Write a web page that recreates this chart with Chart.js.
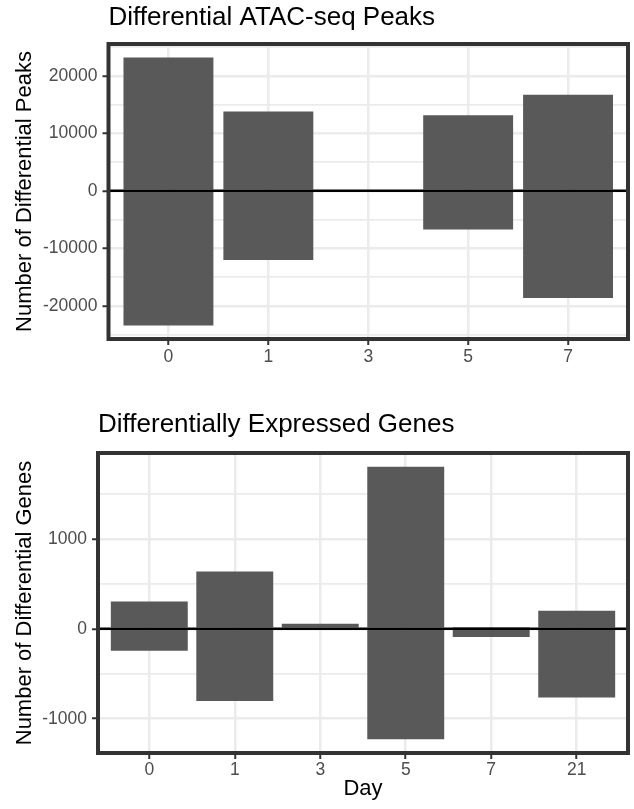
<!DOCTYPE html>
<html>
<head>
<meta charset="utf-8">
<script src="https://cdn.jsdelivr.net/npm/chart.js@4.4.1/dist/chart.umd.min.js"></script>
<style>
  html, body { margin: 0; padding: 0; background: #fff; }
  #wrap { position: relative; width: 634px; height: 809px; }
  canvas { position: absolute; left: 0; }
  #peaksChart { top: 0; }
  #genesChart { top: 400px; }
</style>
</head>
<body>
<div id="wrap">
  <canvas id="peaksChart" width="634" height="400"></canvas>
  <canvas id="genesChart" width="634" height="409"></canvas>
</div>
<script>
// ATAC-seq peaks per day (opened / closed)
const peakDays = ['0', '1', '3', '5', '7'];
const peaksUp = [23200, 13800, 0, 13150, 16700];
const peaksDown = [-23450, -12050, 0, -6750, -18650];
const peakTicks = [-20000, -10000, 0, 10000, 20000];
const peakMinorTicks = [-25000, -15000, -5000, 5000, 15000, 25000];

// differentially expressed genes per day (up / down)
const geneDays = ['0', '1', '3', '5', '7', '21'];
const genesUp = [305, 640, 56, 1806, 22, 202];
const genesDown = [-243, -804, 0, -1230, -90, -763];
const geneTicks = [-1000, 0, 1000];
const geneMinorTicks = [-500, 500, 1500];

const zeroLine = 0;

const FONT = "'Liberation Sans', Arial, Helvetica, sans-serif";
const BAR = '#595959';
const GRID = '#EBEBEB';
const FRAME = '#333333';
const TICK_TEXT = '#4D4D4D';

const panelPlugin = {
    id: 'panel',
    afterDatasetsDraw(chart) {
        const { ctx, chartArea: a, scales: { y } } = chart;
        const y0 = y.getPixelForValue(zeroLine);
        ctx.save();
        ctx.strokeStyle = '#000';
        ctx.lineWidth = 2.5;
        ctx.beginPath();
        ctx.moveTo(a.left, y0);
        ctx.lineTo(a.right, y0);
        ctx.stroke();
        ctx.restore();
    },
    afterDraw(chart) {
        const { ctx, chartArea: a } = chart;
        ctx.save();
        ctx.strokeStyle = FRAME;
        ctx.lineWidth = 4;
        ctx.strokeRect(a.left, a.top, a.right - a.left, a.bottom - a.top);
        ctx.restore();
    }
};

// ggplot style limits: data range plus 5% on each side
function expandRange(lo, hi) {
    const pad = (hi - lo) * 0.05;
    return [lo - pad, hi + pad];
}

function buildChart(ctx, days, up, down, majors, minors, opts) {
    const [yMin, yMax] = expandRange(Math.min(...down, 0), Math.max(...up, 0));
    const isMajor = c => c.tick && majors.includes(c.tick.value);
    const yTicks = majors.concat(minors).filter(v => v >= yMin && v <= yMax).sort((a, b) => a - b);

    return new Chart(ctx, {
        type: 'bar',
        data: {
            datasets: [
                { data: days.map((d, i) => ({ x: i, y: up[i] })), backgroundColor: BAR, borderWidth: 0 },
                { data: days.map((d, i) => ({ x: i, y: down[i] })), backgroundColor: BAR, borderWidth: 0 }
            ]
        },
        options: {
            responsive: false,
            animation: false,
            categoryPercentage: 0.9,
            barPercentage: 1,
            layout: { padding: { left: 0, right: 6, top: 0, bottom: 0 } },
            plugins: {
                legend: { display: false },
                tooltip: { enabled: false },
                title: {
                    display: true,
                    text: opts.title,
                    align: 'start',
                    fullSize: false,
                    color: '#000',
                    font: { family: FONT, size: 26, weight: 'normal' },
                    padding: opts.titlePad
                }
            },
            scales: {
                x: {
                    type: 'linear',
                    stacked: true,
                    offset: false,
                    min: -0.6,
                    max: days.length - 1 + 0.6,
                    afterBuildTicks(s) { s.ticks = days.map((d, i) => ({ value: i })); },
                    grid: {
                        offset: false,
                        color: GRID,
                        lineWidth: 2.5,
                        tickColor: FRAME,
                        tickWidth: 2,
                        tickLength: 6
                    },
                    border: { display: false },
                    ticks: {
                        autoSkip: false,
                        maxRotation: 0,
                        padding: opts.xTickPad,
                        color: TICK_TEXT,
                        font: { family: FONT, size: 17.5 },
                        callback: v => days[v] ?? ''
                    },
                    title: opts.xTitle ? {
                        display: true,
                        text: opts.xTitle,
                        color: '#000',
                        font: { family: FONT, size: 22 },
                        padding: { top: 0, bottom: 6.7 }
                    } : { display: false },
                    afterFit(s) { s.height = opts.xHeight; }
                },
                y: {
                    stacked: true,
                    min: yMin,
                    max: yMax,
                    afterBuildTicks(s) { s.ticks = yTicks.map(v => ({ value: v })); },
                    grid: {
                        color: GRID,
                        lineWidth: c => isMajor(c) ? 2.5 : 1.8,
                        tickColor: c => isMajor(c) ? FRAME : 'rgba(0,0,0,0)',
                        tickWidth: 2,
                        tickLength: 6
                    },
                    border: { display: false },
                    ticks: {
                        autoSkip: false,
                        padding: 5,
                        color: TICK_TEXT,
                        font: { family: FONT, size: 17.5 },
                        callback: v => majors.includes(v) ? String(v) : ''
                    },
                    title: {
                        display: true,
                        text: opts.yTitle,
                        color: '#000',
                        font: { family: FONT, size: 22 },
                        padding: { top: 12, bottom: 0 }
                    },
                    afterFit(s) { s.width = opts.left; }
                }
            }
        },
        plugins: [panelPlugin]
    });
}

buildChart(document.getElementById('peaksChart'), peakDays, peaksUp, peaksDown, peakTicks, peakMinorTicks, {
    title: 'Differential ATAC-seq Peaks',
    yTitle: 'Number of Differential Peaks',
    left: 108.5,
    titlePad: { top: 2.1, bottom: 10.7 },
    xTickPad: 2,
    xHeight: 61
});

buildChart(document.getElementById('genesChart'), geneDays, genesUp, genesDown, geneTicks, geneMinorTicks, {
    title: 'Differentially Expressed Genes',
    yTitle: 'Number of Differential Genes',
    xTitle: 'Day',
    left: 98,
    titlePad: { top: 9.7, bottom: 12.1 },
    xTickPad: 1,
    xHeight: 56
});
</script>
</body>
</html>
